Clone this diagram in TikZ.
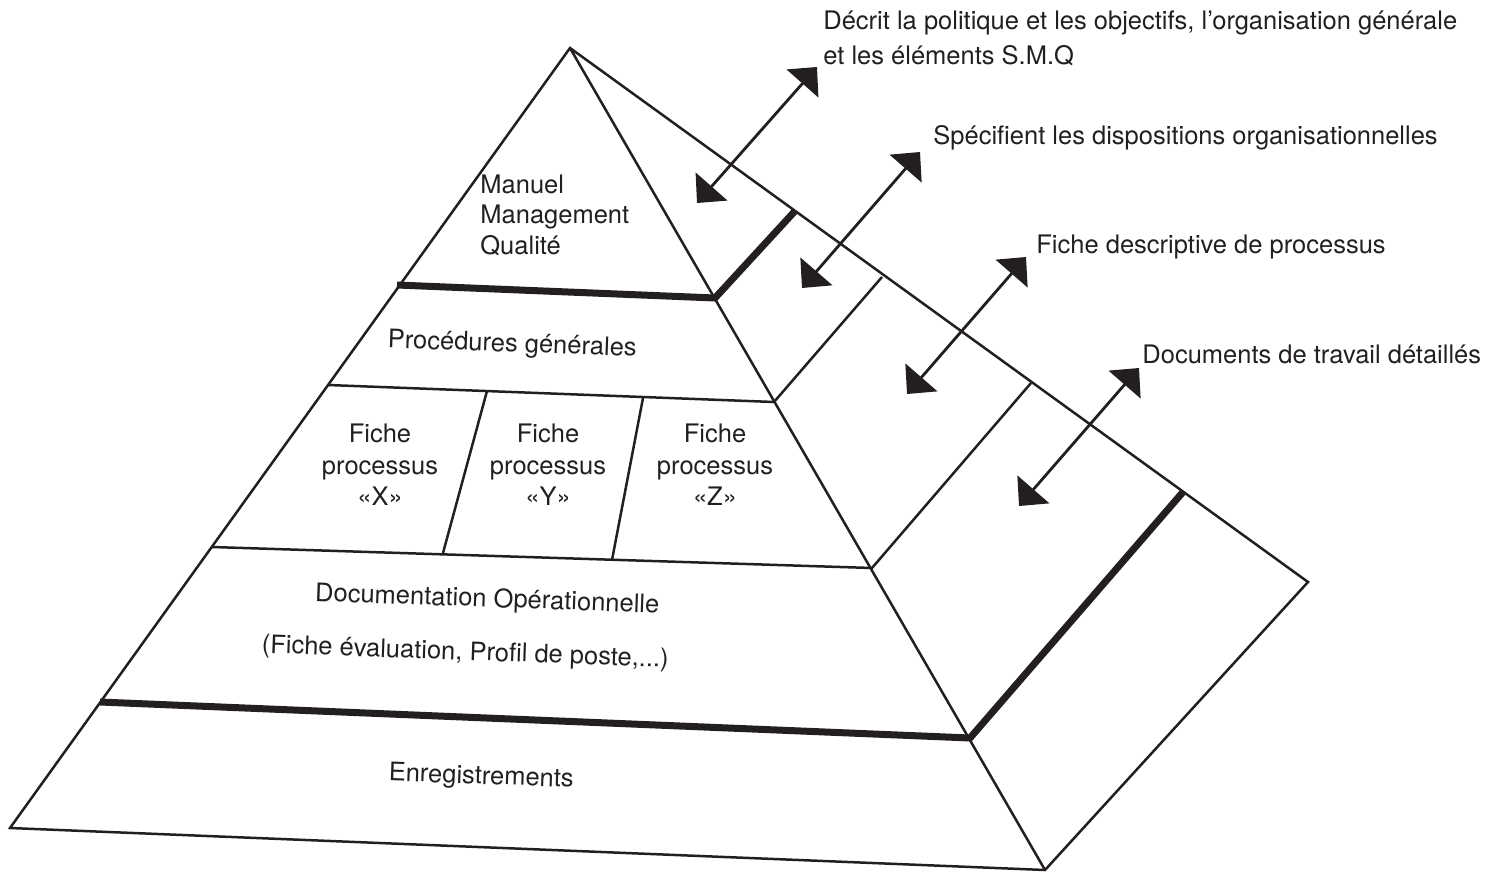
\documentclass[tikz,border=0pt]{standalone}
\usepackage{fontspec}
\setmainfont{TeX Gyre Heros}
\usetikzlibrary{arrows.meta}
\definecolor{ink}{HTML}{231F20}
\begin{document}
\begin{tikzpicture}[x=0.5pt,y=-0.5pt,
  pline/.style={draw=ink, line width=1.25pt, line join=miter, line cap=butt},
  tline/.style={draw=ink, line width=3.5pt, line join=miter},
  darrow/.style={draw=ink, line width=1.4pt,
    {Triangle[length=11pt,width=21pt]}-{Triangle[length=11pt,width=21pt]}},
  lbl/.style={font=\fontsize{12.75}{15.3}\selectfont, text=ink, inner sep=0pt}]
\useasboundingbox (0,0) rectangle (1500,873);
% pyramid corners
\coordinate (A) at (570,48);
\coordinate (BL) at (10,828);
\coordinate (BF) at (1045,870);
\coordinate (BR) at (1308,582);
% level points
\coordinate (L1l) at (397,285);
\coordinate (L1r) at (715,298);
\coordinate (L1b) at (795,211);
\coordinate (L2l) at (328,385);
\coordinate (L2r) at (774,402);
\coordinate (L2b) at (882,277);
\coordinate (L3l) at (212,547);
\coordinate (L3r) at (872,568);
\coordinate (L3b) at (1031,383);
\coordinate (L4l) at (100,702);
\coordinate (L4r) at (970,738);
\coordinate (L4b) at (1183,492);
\coordinate (D1t) at (487,391);
\coordinate (D1b) at (443,553);
\coordinate (D2t) at (643,398);
\coordinate (D2b) at (612,560);
% outline
\draw[pline] (A) -- (BL) -- (BF) -- (BR) -- cycle;
\draw[pline] (A) -- (BF);
% level lines
\draw[tline] (L1l) -- (L1r) -- (L1b);
\draw[pline] (L2l) -- (L2r) -- (L2b);
\draw[pline] (L3l) -- (L3r) -- (L3b);
\draw[tline] (L4l) -- (L4r) -- (L4b);
\draw[pline] (D1t) -- (D1b);
\draw[pline] (D2t) -- (D2b);
% arrows
\coordinate (a1s) at (697,203); \coordinate (a1e) at (817,67);
\coordinate (a2s) at (802,288); \coordinate (a2e) at (920,152);
\coordinate (a3s) at (907,394); \coordinate (a3e) at (1026,257);
\coordinate (a4s) at (1019,506); \coordinate (a4e) at (1139,368);
\draw[darrow] (a1s) -- (a1e);
\draw[darrow] (a2s) -- (a2e);
\draw[darrow] (a3s) -- (a3e);
\draw[darrow] (a4s) -- (a4e);
% right labels
\node[lbl, anchor=base west] (t1a) at (823,29) {Décrit la politique et les objectifs, l’organisation générale};
\node[lbl, anchor=base west] (t1b) at (823,64) {et les éléments S.M.Q};
\node[lbl, anchor=base west] (t2) at (933,144) {Spécifient les dispositions organisationnelles};
\node[lbl, anchor=base west] (t3) at (1036,253) {Fiche descriptive de processus};
\node[lbl, anchor=base west] (t4) at (1142,363) {Documents de travail détaillés};
% front labels
\node[lbl, anchor=base west] (m1) at (480,193) {Manuel};
\node[lbl, anchor=base west] (m2) at (480,223.5) {Management};
\node[lbl, anchor=base west] (m3) at (480,254) {Qualité};
\node[lbl, anchor=base, rotate=-2] (pg) at (512,352) {Procédures générales};
\node[lbl, anchor=base] (fx1) at (380,442) {Fiche};
\node[lbl, anchor=base] (fx2) at (380,474) {processus};
\node[lbl, anchor=base] (fx3) at (380,505) {«X»};
\node[lbl, anchor=base] (fy1) at (548,442) {Fiche};
\node[lbl, anchor=base] (fy2) at (548,474) {processus};
\node[lbl, anchor=base] (fy3) at (548,505) {«Y»};
\node[lbl, anchor=base] (fz1) at (715,442) {Fiche};
\node[lbl, anchor=base] (fz2) at (715,474) {processus};
\node[lbl, anchor=base] (fz3) at (715,505) {«Z»};
\node[lbl, anchor=base, rotate=-2] (doc) at (487,607) {Documentation Opérationnelle};
\node[lbl, anchor=base, rotate=-2] (fev) at (465,660) {(Fiche évaluation, Profil de poste,...)};
\node[lbl, anchor=base, rotate=-2] (enr) at (481,784) {Enregistrements};
\end{tikzpicture}
\end{document}
